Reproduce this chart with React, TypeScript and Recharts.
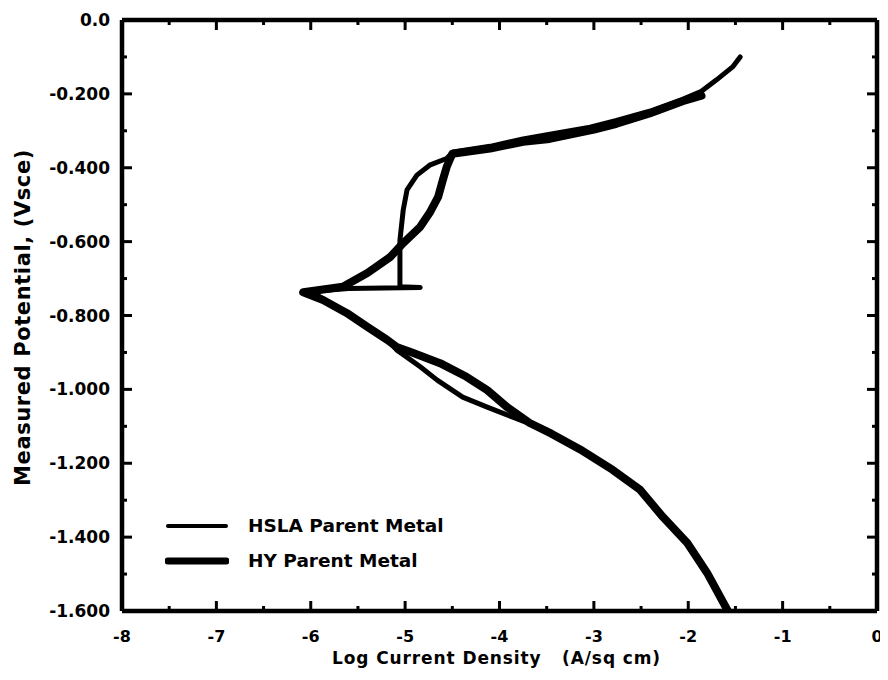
import React from "react";
import { LineChart, Line, XAxis, YAxis, Legend } from "recharts";

// log current density (A/sq cm) and potential (Vsce), scanned from cathodic end upward
const hslaLogI = [
  -1.58, -1.8, -2.01, -2.27, -2.51, -2.8, -3.15, -3.45, -3.68, -3.92, -4.13, -4.39, -4.66,
  -4.84, -5.09, -5.19, -5.4, -5.62, -5.85, -6.0, -5.6, -4.84, -5.055, -5.055, -5.02, -4.98,
  -4.875, -4.74, -4.56, -4.49, -4.1, -3.75, -3.39, -3.04, -2.76, -2.41, -2.06, -1.86, -1.7,
  -1.53, -1.45,
];
const hslaPotential = [
  -1.6, -1.497, -1.416, -1.345, -1.272, -1.218, -1.162, -1.12, -1.093, -1.069, -1.048, -1.021,
  -0.975, -0.939, -0.893, -0.866, -0.831, -0.793, -0.758, -0.735, -0.727, -0.724, -0.722,
  -0.596, -0.514, -0.46, -0.42, -0.393, -0.375, -0.357, -0.342, -0.322, -0.306, -0.29, -0.272,
  -0.247, -0.215, -0.193, -0.162, -0.127, -0.1,
];

const hyLogI = [
  -1.58, -1.8, -2.01, -2.27, -2.51, -2.8, -3.15, -3.45, -3.68, -3.92, -4.13, -4.35, -4.63,
  -4.92, -5.09, -5.19, -5.4, -5.62, -5.87, -6.08, -5.66, -5.4, -5.16, -5.02, -4.84, -4.74,
  -4.65, -4.6, -4.56, -4.5, -4.1, -3.75, -3.47, -3.0, -2.76, -2.41, -2.06, -1.86,
];
const hyPotential = [
  -1.6, -1.497, -1.416, -1.345, -1.272, -1.218, -1.162, -1.12, -1.091, -1.048, -1.002, -0.966,
  -0.929, -0.901, -0.885, -0.866, -0.831, -0.793, -0.758, -0.737, -0.722, -0.685, -0.642,
  -0.604, -0.56, -0.522, -0.479, -0.433, -0.398, -0.362, -0.348, -0.33, -0.322, -0.297,
  -0.281, -0.253, -0.22, -0.205,
];

const xTicks = [-8, -7.5, -7, -6.5, -6, -5.5, -5, -4.5, -4, -3.5, -3, -2.5, -2, -1.5, -1, -0.5, 0];
const yTicks = [
  0, -0.1, -0.2, -0.3, -0.4, -0.5, -0.6, -0.7, -0.8, -0.9, -1.0, -1.1, -1.2, -1.3, -1.4, -1.5, -1.6,
];

const hslaData = hslaLogI.map((x, i) => ({ x, e: hslaPotential[i] }));
const hyData = hyLogI.map((x, i) => ({ x, e: hyPotential[i] }));

const FONT = "'DejaVu Sans', sans-serif";
const MAJOR = 10;
const MINOR = 5;

const isMajorX = (v: number) => Number.isInteger(v);
const isMajorY = (v: number) => Math.round(v * 10) % 2 === 0;

const BottomTick = (props: any) => {
  const { x, y, payload } = props;
  const v = payload.value;
  const len = isMajorX(v) ? MAJOR : MINOR;
  return (
    <g>
      <line x1={x} y1={y} x2={x} y2={y - len} stroke="#000" strokeWidth={3} />
      {isMajorX(v) && (
        <text x={x} y={y + 31} textAnchor="middle" fontFamily={FONT} fontWeight="bold" fontSize={16} fill="#000">
          {String(v)}
        </text>
      )}
    </g>
  );
};

const TopTick = (props: any) => {
  const { x, y, payload } = props;
  const len = isMajorX(payload.value) ? MAJOR : MINOR;
  return <line x1={x} y1={y} x2={x} y2={y + len} stroke="#000" strokeWidth={3} />;
};

const LeftTick = (props: any) => {
  const { x, y, payload } = props;
  const v = payload.value;
  const len = isMajorY(v) ? MAJOR : MINOR;
  return (
    <g>
      <line x1={x} y1={y} x2={x + len} y2={y} stroke="#000" strokeWidth={3} />
      {isMajorY(v) && (
        <text x={x - 12} y={y} dy="0.36em" textAnchor="end" fontFamily={FONT} fontWeight="bold" fontSize={17} fill="#000">
          {v === 0 ? "0.0" : v.toFixed(3)}
        </text>
      )}
    </g>
  );
};

const RightTick = (props: any) => {
  const { x, y, payload } = props;
  const len = isMajorY(payload.value) ? MAJOR : MINOR;
  return <line x1={x} y1={y} x2={x - len} y2={y} stroke="#000" strokeWidth={3} />;
};

const XTitle = (props: any) => {
  const { viewBox } = props;
  return (
    <text
      x={viewBox.x + viewBox.width / 2 - 3}
      y={656}
      textAnchor="middle"
      fontFamily={FONT}
      fontWeight="bold"
      fontSize={17}
      letterSpacing={0.9}
      fill="#000"
      style={{ whiteSpace: "pre" }}
    >
      {"Log Current Density   (A/sq cm)"}
    </text>
  );
};

const YTitle = (props: any) => {
  const { viewBox } = props;
  const cx = 14;
  const cy = viewBox.y + viewBox.height / 2 + 2;
  return (
    <text
      x={cx}
      y={cy}
      dy="0.36em"
      transform={`rotate(-90 ${cx} ${cy})`}
      textAnchor="middle"
      fontFamily={FONT}
      fontWeight="bold"
      fontSize={21}
      letterSpacing={0.6}
      fill="#000"
    >
      Measured Potential, (Vsce)
    </text>
  );
};

const renderLegend = (props: any) => {
  const { payload = [] } = props;
  return (
    <div style={{ fontFamily: FONT, fontWeight: "bold", fontSize: 18.5, color: "#000" }}>
      {payload.map((entry: any) => (
        <div key={entry.value} style={{ display: "flex", alignItems: "center", height: 35 }}>
          <svg width={64} height={12}>
            <line
              x1={3}
              y1={6}
              x2={61}
              y2={6}
              stroke="#000"
              strokeWidth={(entry.payload?.strokeWidth ?? 4) - 1}
              strokeLinecap="round"
            />
          </svg>
          <span style={{ marginLeft: 19 }}>{entry.value}</span>
        </div>
      ))}
    </div>
  );
};

const axisLine = { stroke: "#000", strokeWidth: 4.5 };

export default function App() {
  return (
    <LineChart width={880} height={664} margin={{ top: 11, right: 10, bottom: 60, left: 113 }}>
      <XAxis
        xAxisId="b"
        type="number"
        dataKey="x"
        domain={[-8, 0]}
        ticks={xTicks}
        interval={0}
        allowDataOverflow
        height={1}
        tickSize={0}
        tickMargin={0}
        tickLine={false}
        axisLine={axisLine}
        tick={BottomTick}
        label={<XTitle />}
      />
      <XAxis
        xAxisId="t"
        orientation="top"
        type="number"
        dataKey="x"
        domain={[-8, 0]}
        ticks={xTicks}
        interval={0}
        allowDataOverflow
        height={1}
        tickSize={0}
        tickMargin={0}
        tickLine={false}
        axisLine={axisLine}
        tick={TopTick}
      />
      <YAxis
        yAxisId="l"
        type="number"
        domain={[-1.6, 0]}
        ticks={yTicks}
        interval={0}
        allowDataOverflow
        width={1}
        tickSize={0}
        tickMargin={0}
        tickLine={false}
        axisLine={axisLine}
        tick={LeftTick}
        label={<YTitle />}
      />
      <YAxis
        yAxisId="r"
        orientation="right"
        type="number"
        domain={[-1.6, 0]}
        ticks={yTicks}
        interval={0}
        allowDataOverflow
        width={1}
        tickSize={0}
        tickMargin={0}
        tickLine={false}
        axisLine={axisLine}
        tick={RightTick}
      />
      <Legend
        layout="vertical"
        align="center"
        verticalAlign="middle"
        content={renderLegend}
        wrapperStyle={{ left: 157, top: 500, width: 320 }}
      />
      <Line
        xAxisId="b"
        yAxisId="l"
        data={hslaData}
        dataKey="e"
        name="HSLA Parent Metal"
        type="linear"
        stroke="#000"
        strokeWidth={5}
        strokeLinejoin="round"
        strokeLinecap="round"
        dot={false}
        activeDot={false}
        isAnimationActive={false}
      />
      <Line
        xAxisId="b"
        yAxisId="l"
        data={hyData}
        dataKey="e"
        name="HY Parent Metal"
        type="linear"
        stroke="#000"
        strokeWidth={8}
        strokeLinejoin="round"
        strokeLinecap="round"
        dot={false}
        activeDot={false}
        isAnimationActive={false}
      />
    </LineChart>
  );
}
